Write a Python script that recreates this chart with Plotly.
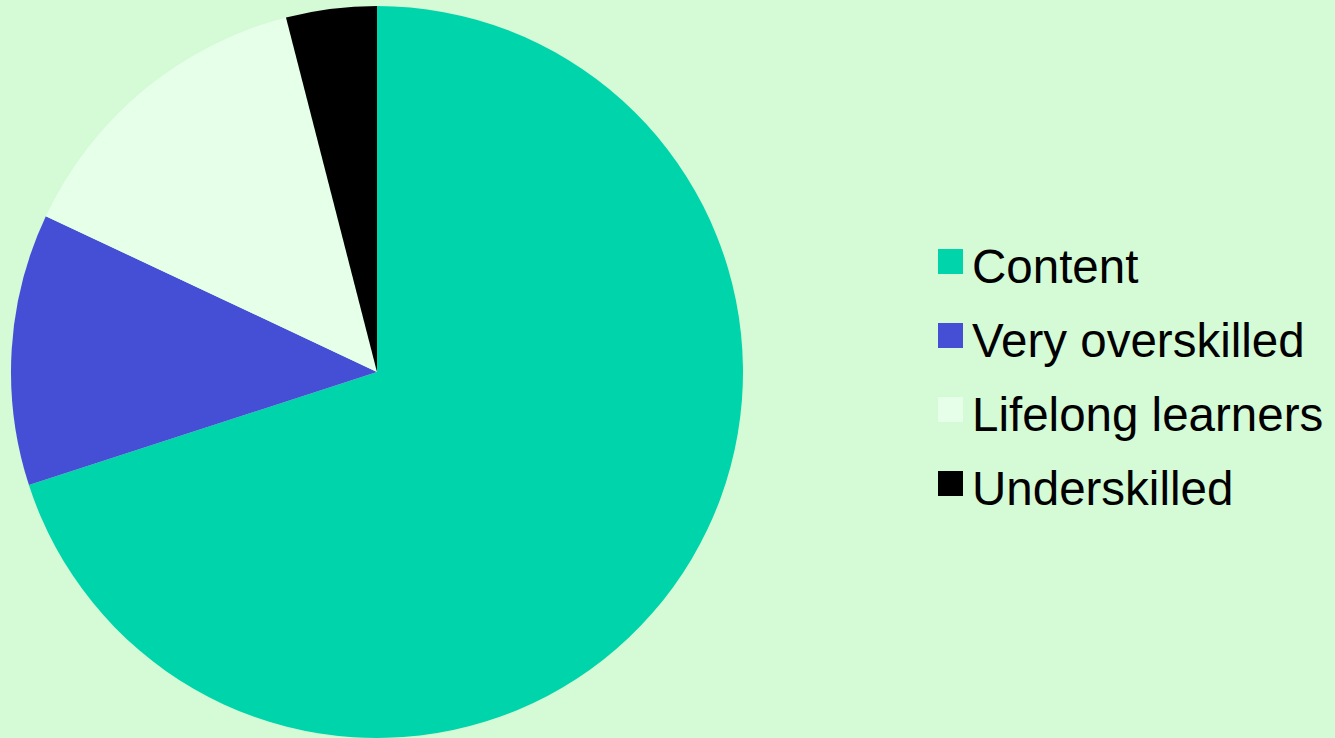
import plotly.graph_objects as go

# Share of workers by skill match
labels = ["Content", "Very overskilled", "Lifelong learners", "Underskilled"]
values = [70, 12, 14, 4]
colors = ["#00D4AA", "#444FD6", "#E6FFE9", "#000000"]

BG = "#D4FAD6"
W, H = 1335, 738

fig = go.Figure(
    go.Pie(
        labels=labels,
        values=values,
        marker=dict(colors=colors, line=dict(width=0)),
        sort=False,
        direction="clockwise",
        rotation=0,
        textinfo="none",
        hoverinfo="label+percent",
        showlegend=False,
        domain=dict(x=[11 / W, 743 / W], y=[0, 732 / H]),
    )
)

# Legend: colour swatch + label per category
sw_x0, sw_size, row0, row_step = 938, 25, 261.5, 74
for i, (lab, col) in enumerate(zip(labels, colors)):
    cy = row0 + i * row_step
    fig.add_shape(
        type="rect",
        xref="paper", yref="paper",
        x0=sw_x0 / W, x1=(sw_x0 + sw_size) / W,
        y0=1 - (cy + sw_size / 2) / H, y1=1 - (cy - sw_size / 2) / H,
        fillcolor=col, line=dict(width=0),
    )
    fig.add_annotation(
        text=lab,
        xref="paper", yref="paper",
        x=970 / W, y=1 - (cy + 5) / H,
        xanchor="left", yanchor="middle",
        showarrow=False,
        font=dict(family="Liberation Sans, Arial, sans-serif", size=47.5, color="#000000"),
    )

fig.update_layout(
    width=W, height=H,
    margin=dict(l=0, r=0, t=0, b=0),
    paper_bgcolor=BG,
    plot_bgcolor=BG,
)

fig.write_html("out.html")
